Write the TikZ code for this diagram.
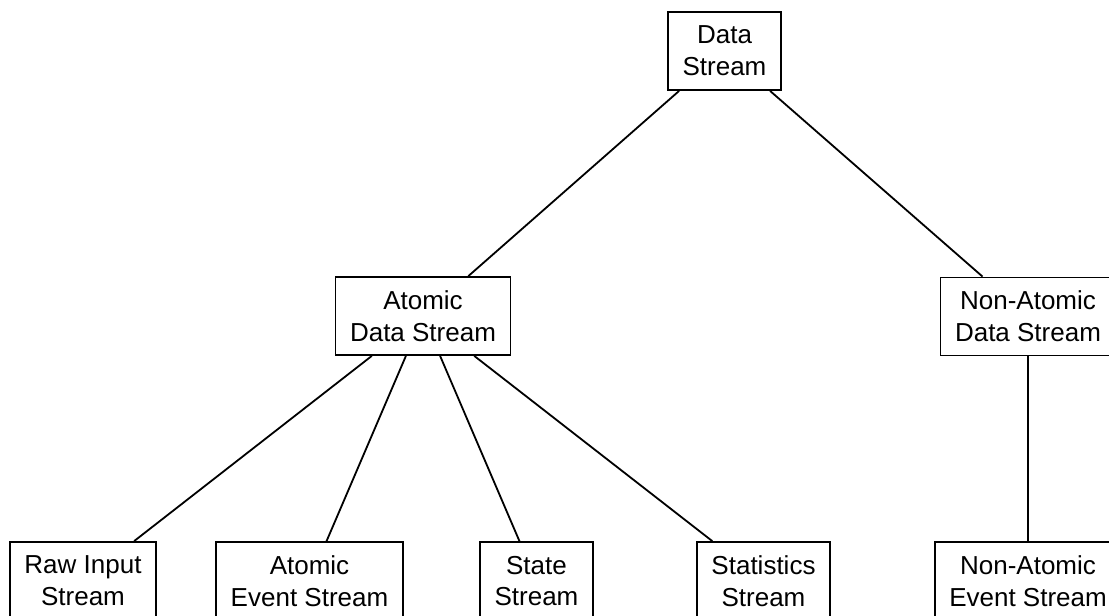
\documentclass[tikz,border=0pt]{standalone}
\usepackage{fontspec}
\setmainfont{Liberation Sans}
\begin{document}
\begin{tikzpicture}[x=1pt,y=-1pt,
  streambox/.style={draw, line width=1.8pt, align=center, inner xsep=14.5pt,
    inner ysep=0pt, minimum height=78pt, font=\fontsize{26}{31.7}\selectfont},
  link/.style={line width=1.8pt}]
  \useasboundingbox (0,0) rectangle (1109,616);
  \clip (0,0) rectangle (1109,616);

  % root
  \node[streambox] (ds) at (724.5,51) {Data\\Stream};

  % second level
  \node[streambox] (ads) at (423,316) {Atomic\\Data Stream};
  \node[streambox] (nads) at (1028,316.5) {Non-Atomic\\Data Stream};

  % leaves
  \node[streambox] (raw) at (83,581) {Raw Input\\Stream};
  \node[streambox] (aes) at (309.5,581) {Atomic\\Event Stream};
  \node[streambox] (state) at (536.5,581) {State\\Stream};
  \node[streambox] (stats) at (763.5,581) {Statistics\\Stream};
  \node[streambox] (naes) at (1028,581) {Non-Atomic\\Event Stream};

  % connectors
  \draw[link] (ds) -- (ads);
  \draw[link] (ds) -- (nads);
  \draw[link] (ads) -- (raw);
  \draw[link] (ads) -- (aes);
  \draw[link] (ads) -- (state);
  \draw[link] (ads) -- (stats);
  \draw[link] (nads) -- (naes);
\end{tikzpicture}
\end{document}
